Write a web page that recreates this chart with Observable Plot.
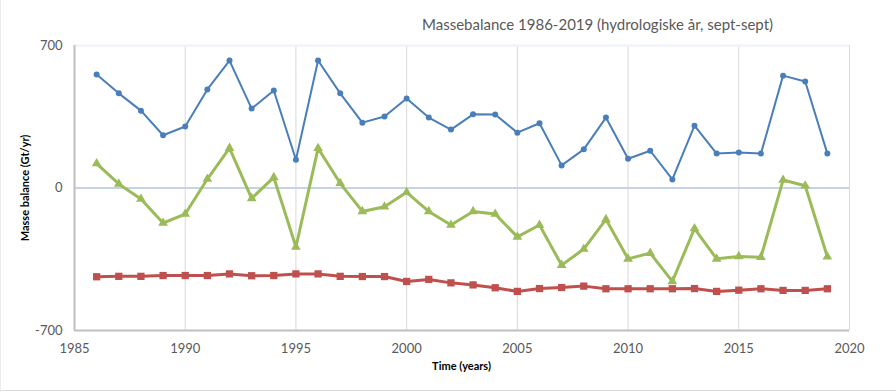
<!DOCTYPE html>
<html>
<head>
<meta charset="utf-8">
<script src="https://cdn.jsdelivr.net/npm/d3@7"></script>
<script src="https://cdn.jsdelivr.net/npm/@observablehq/plot@0.6"></script>
<style>
  html, body { margin: 0; padding: 0; background: #fff; }
  #wrap { position: relative; width: 896px; height: 392px; overflow: hidden; }
  #edgeB { position: absolute; left: 0; top: 390px; width: 896px; height: 1px; background: #d9d9d9; }
  #edgeL { position: absolute; left: 0; top: 0; width: 1px; height: 392px; background: #ececec; }
</style>
</head>
<body>
<div id="wrap"><div id="edgeB"></div><div id="edgeL"></div></div>
<script>
const title = "Massebalance 1986-2019 (hydrologiske år, sept-sept)";
const yLabel = "Masse balance (Gt/yr)";
const xLabel = "Time (years)";

const years = [1986,1987,1988,1989,1990,1991,1992,1993,1994,1995,1996,1997,1998,1999,2000,2001,2002,2003,2004,2005,2006,2007,2008,2009,2010,2011,2012,2013,2014,2015,2016,2017,2018,2019];

// blue circles
const smb = [557,465,380,259,302,484,626,390,479,139,626,465,321,351,440,346,287,362,361,272,318,111,190,346,144,183,42,306,169,174,169,552,523,169];
// green triangles
const massBalance = [120,20,-54,-172,-128,44,196,-51,52,-290,195,23,-115,-92,-21,-115,-182,-115,-128,-240,-182,-379,-300,-154,-348,-320,-459,-199,-348,-336,-340,39,11,-338];
// red squares
const discharge = [-436,-434,-434,-430,-430,-430,-422,-431,-430,-422,-422,-434,-435,-435,-459,-449,-466,-476,-490,-508,-494,-489,-482,-495,-495,-495,-495,-494,-508,-502,-495,-503,-503,-495];

const xTicks = [1985,1990,1995,2000,2005,2010,2015,2020];
const xGrid = [1990,1995,2000,2005,2010,2015,2020];
const yTicks = [-700,0,700];

const rows = (vals) => years.map((y, i) => ({year: y, value: vals[i]}));
const dSmb = rows(smb), dMb = rows(massBalance), dD = rows(discharge);

const font = "Lato, 'Open Sans', sans-serif";

const chart = Plot.plot({
  width: 896,
  height: 392,
  marginLeft: 74,
  marginRight: 47,
  marginTop: 45,
  marginBottom: 62,
  style: {fontFamily: font, fontSize: "13px", color: "#595959", background: "transparent"},
  x: {domain: [1985, 2020]},
  y: {domain: [-700, 700]},
  marks: [
    Plot.ruleX(xGrid, {stroke: "#d9d9d9", strokeWidth: 1}),
    Plot.ruleY([700], {stroke: "#eef2f8", strokeWidth: 2}),
    Plot.ruleY([0], {stroke: "#c5d3e6", strokeWidth: 2}),
    Plot.ruleY([-700], {stroke: "#bfbfbf", strokeWidth: 2}),
    Plot.ruleX([1985], {stroke: "#bfbfbf", strokeWidth: 2}),
    Plot.axisY({ticks: yTicks, tickSize: 0, tickPadding: 12, label: null, tickFormat: d => String(d), fill: "#595959"}),
    Plot.axisX({ticks: xTicks, tickSize: 0, tickPadding: 13, label: null, tickFormat: d => String(d), fill: "#595959"}),
    Plot.line(dSmb, {x: "year", y: "value", stroke: "#4a7ebb", strokeWidth: 2}),
    Plot.dot(dSmb, {x: "year", y: "value", r: 3, fill: "#4a7ebb", stroke: "none"}),
    Plot.line(dMb, {x: "year", y: "value", stroke: "#9bbb59", strokeWidth: 3}),
    Plot.dot(dMb, {x: "year", y: "value", symbol: "triangle", r: 3.6, fill: "#9bbb59", stroke: "none"}),
    Plot.line(dD, {x: "year", y: "value", stroke: "#c0504d", strokeWidth: 3}),
    Plot.dot(dD, {x: "year", y: "value", symbol: "square", r: 4.1, fill: "#c0504d", stroke: "none"}),
    Plot.text([title], {frameAnchor: "top-left", dx: 523, dy: -26, textAnchor: "middle", fontSize: 15, fill: "#595959"}),
    Plot.text([yLabel], {frameAnchor: "left", dx: -49, rotate: -90, textAnchor: "middle", fontSize: 11, fontWeight: "bold", fill: "#000"}),
    Plot.text([xLabel], {frameAnchor: "bottom-left", dx: 387, dy: 39, textAnchor: "middle", fontSize: 11, fontWeight: "bold", fill: "#000"})
  ]
});
document.getElementById("wrap").appendChild(chart);
chart.style.position = "absolute";
chart.style.left = "0";
chart.style.top = "0";
</script>
</body>
</html>
